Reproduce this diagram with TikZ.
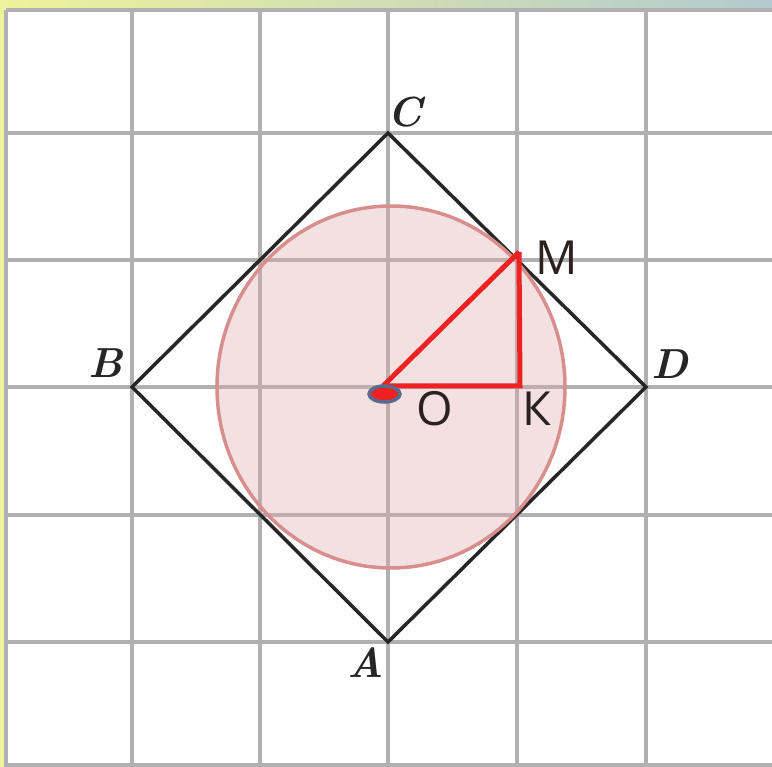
\documentclass[tikz,border=0pt]{standalone}
\usepackage{fontspec}
\usetikzlibrary{shadings, calc}
\newfontfamily\lblfont{Open Sans}
\definecolor{edgeyellow}{RGB}{238,242,154}
\definecolor{edgeteal}{RGB}{178,202,206}
\definecolor{gridgray}{RGB}{176,176,176}
\definecolor{pinkfill}{RGB}{221,169,169}
\definecolor{pinkline}{RGB}{217,142,142}
\definecolor{segred}{RGB}{238,34,34}
\definecolor{markeredge}{RGB}{90,105,140}
\definecolor{textdark}{RGB}{45,32,32}
\begin{document}
\begin{tikzpicture}[x=1pt, y=-1pt,
    gridline/.style={gridgray, line width=3.5pt},
    vertexlbl/.style={font=\fontsize{42}{42}\selectfont\bfseries\itshape, text=black!85},
    seglbl/.style={font=\lblfont\fontsize{47}{47}\selectfont, text=textdark},
    redline/.style={segred, line width=5pt}]
    \useasboundingbox (0,0) rectangle (772,767);

    % Frame : yellow strips and grid
    \fill[edgeyellow] (0,0) rectangle (5,767);
    \shade[left color=edgeyellow, right color=edgeteal] (0,0) rectangle (772,9);
    \foreach \gx in {6,132,260,388,517,646}
        \draw[gridline] (\gx,10) -- (\gx,767);
    \foreach \gy in {10,133,260,387,515,642,765}
        \draw[gridline] (6,\gy) -- (772,\gy);

    % Square ABCD
    \coordinate (A) at (388,642);
    \coordinate (B) at (132,387);
    \coordinate (C) at (388,133);
    \coordinate (D) at (646,387);
    \draw[black!85, line width=3.5pt] (A) -- (D) -- (C) -- (B) -- cycle;
    \node[vertexlbl] (lblA) at (366,663) {A};
    \node[vertexlbl] (lblB) at (106,363) {B};
    \node[vertexlbl] (lblC) at (405,112) {C};
    \node[vertexlbl] (lblD) at (670,364) {D};

    % Inscribed circle
    \coordinate (ctr) at (391,387);
    \fill[pinkfill, fill opacity=0.35] (ctr) ellipse [x radius=174, y radius=181];
    \draw[pinkline, line width=3.5pt] (ctr) ellipse [x radius=174, y radius=181];

    % Triangle OKM
    \coordinate (O) at (383,386);
    \coordinate (M) at (519,252);
    \coordinate (K) at (520,386);
    \draw[redline] (O) -- (M);
    \draw[redline] (M) -- (K) -- (O);
    \draw[markeredge, line width=3.5pt, fill=segred] (384.5,394) ellipse [x radius=15.5, y radius=8];
    \node[seglbl] (lblM) at (557,258) {M};
    \node[seglbl] (lblO) at (435,409) {O};
    \node[seglbl] (lblK) at (537,409) {К};
\end{tikzpicture}
\end{document}
